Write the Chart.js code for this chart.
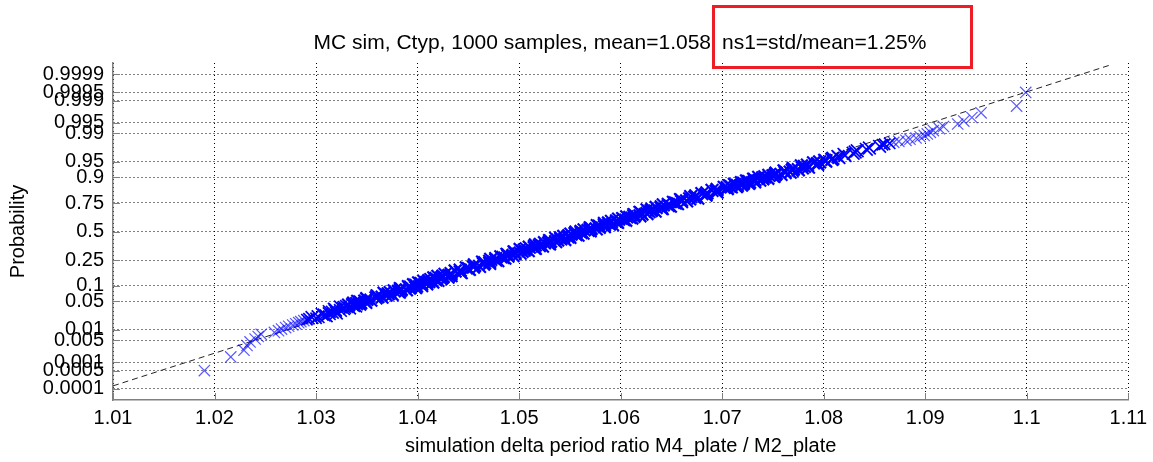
<!DOCTYPE html>
<html>
<head>
<meta charset="utf-8">
<script src="https://cdn.jsdelivr.net/npm/chart.js@4.4.1/dist/chart.umd.min.js"></script>
<style>
  html, body { margin: 0; padding: 0; background: #fff; }
  #wrap { width: 1153px; height: 462px; }
</style>
</head>
<body>
<div id="wrap"><canvas id="chart" width="1153" height="462"></canvas></div>
<script>
// sorted samples: [value, plotting probability]
const lowTail = [
  [1.0190, 0.0005], [1.0216, 0.0015], [1.0229, 0.0025], [1.0232, 0.0035], [1.0235, 0.0045],
  [1.0240, 0.0055], [1.0243, 0.0065], [1.0246, 0.0075], [1.0259, 0.0085], [1.0263, 0.0095],
  [1.0266, 0.0105], [1.0270, 0.0115], [1.0273, 0.0125], [1.0277, 0.0135], [1.0280, 0.0145],
  [1.0283, 0.0155], [1.0285, 0.0165], [1.0288, 0.0175], [1.0291, 0.0185], [1.0293, 0.0195]
];

const body = [
  [1.0300, 0.020], [1.0302, 0.022], [1.0308, 0.024], [1.0313, 0.026], [1.0316, 0.028],
  [1.0319, 0.030], [1.0319, 0.032], [1.0327, 0.034], [1.0328, 0.036], [1.0330, 0.038],
  [1.0337, 0.040], [1.0336, 0.042], [1.0340, 0.044], [1.0344, 0.046], [1.0343, 0.048],
  [1.0348, 0.050], [1.0350, 0.054], [1.0359, 0.058], [1.0361, 0.062], [1.0369, 0.066],
  [1.0371, 0.070], [1.0373, 0.074], [1.0381, 0.078], [1.0383, 0.082], [1.0384, 0.086],
  [1.0392, 0.090], [1.0393, 0.094], [1.0399, 0.098], [1.0398, 0.102], [1.0404, 0.106],
  [1.0403, 0.110], [1.0409, 0.114], [1.0411, 0.118], [1.0411, 0.122], [1.0418, 0.126],
  [1.0417, 0.130], [1.0418, 0.134], [1.0424, 0.138], [1.0425, 0.142], [1.0425, 0.146],
  [1.0431, 0.150], [1.0433, 0.16], [1.0442, 0.17], [1.0442, 0.18], [1.0450, 0.19],
  [1.0455, 0.20], [1.0456, 0.21], [1.0465, 0.22], [1.0466, 0.23], [1.0471, 0.24],
  [1.0477, 0.25], [1.0477, 0.26], [1.0484, 0.27], [1.0489, 0.28], [1.0489, 0.29],
  [1.0496, 0.30], [1.0496, 0.31], [1.0503, 0.32], [1.0505, 0.33], [1.0507, 0.34],
  [1.0515, 0.35], [1.0515, 0.36], [1.0520, 0.37], [1.0521, 0.38], [1.0529, 0.39],
  [1.0530, 0.40], [1.0531, 0.41], [1.0538, 0.42], [1.0541, 0.43], [1.0541, 0.44],
  [1.0548, 0.45], [1.0549, 0.46], [1.0556, 0.47], [1.0555, 0.48], [1.0561, 0.49],
  [1.0561, 0.50], [1.0568, 0.51], [1.0570, 0.52], [1.0571, 0.53], [1.0579, 0.54],
  [1.0579, 0.55], [1.0584, 0.56], [1.0589, 0.57], [1.0588, 0.58], [1.0596, 0.59],
  [1.0596, 0.60], [1.0603, 0.61], [1.0602, 0.62], [1.0609, 0.63], [1.0613, 0.64],
  [1.0614, 0.65], [1.0621, 0.66], [1.0620, 0.67], [1.0628, 0.68], [1.0630, 0.69],
  [1.0631, 0.70], [1.0640, 0.71], [1.0640, 0.72], [1.0647, 0.73], [1.0647, 0.74],
  [1.0654, 0.75], [1.0660, 0.76], [1.0660, 0.77], [1.0668, 0.78], [1.0673, 0.79],
  [1.0674, 0.80], [1.0684, 0.81], [1.0685, 0.82], [1.0694, 0.83], [1.0695, 0.84],
  [1.0705, 0.850], [1.0709, 0.854], [1.0708, 0.858], [1.0715, 0.862], [1.0713, 0.866],
  [1.0720, 0.870], [1.0721, 0.874], [1.0727, 0.878], [1.0726, 0.882], [1.0732, 0.886],
  [1.0732, 0.890], [1.0740, 0.894], [1.0740, 0.898], [1.0742, 0.902], [1.0750, 0.906],
  [1.0752, 0.910], [1.0753, 0.914], [1.0762, 0.918], [1.0762, 0.922], [1.0769, 0.926],
  [1.0770, 0.930], [1.0779, 0.934], [1.0781, 0.938], [1.0784, 0.942], [1.0794, 0.946],
  [1.0796, 0.950], [1.0802, 0.952], [1.0801, 0.954], [1.0808, 0.956], [1.0809, 0.958],
  [1.0815, 0.960], [1.0814, 0.962], [1.0821, 0.964], [1.0820, 0.966], [1.0829, 0.968],
  [1.0831, 0.970], [1.0833, 0.972], [1.0842, 0.974], [1.0845, 0.976], [1.0855, 0.978],
  [1.0858, 0.980]
];

// samples in between, spread to both sides of the band
const bodyFill = [
  [1.0296, 0.021], [1.0310, 0.023], [1.0306, 0.025], [1.0320, 0.027], [1.0313, 0.029],
  [1.0324, 0.031], [1.0318, 0.033], [1.0333, 0.035], [1.0324, 0.037], [1.0339, 0.039],
  [1.0332, 0.041], [1.0343, 0.043], [1.0337, 0.045], [1.0349, 0.047], [1.0341, 0.049],
  [1.0354, 0.052], [1.0350, 0.056], [1.0365, 0.060], [1.0360, 0.064], [1.0375, 0.068],
  [1.0367, 0.072], [1.0382, 0.076], [1.0377, 0.080], [1.0389, 0.084], [1.0383, 0.088],
  [1.0398, 0.092], [1.0391, 0.096], [1.0404, 0.100], [1.0396, 0.104], [1.0409, 0.108],
  [1.0401, 0.112], [1.0415, 0.116], [1.0406, 0.120], [1.0420, 0.124], [1.0413, 0.128],
  [1.0423, 0.132], [1.0416, 0.136], [1.0430, 0.140], [1.0420, 0.144], [1.0433, 0.148],
  [1.0427, 0.155], [1.0443, 0.165], [1.0437, 0.175], [1.0451, 0.185], [1.0448, 0.195],
  [1.0461, 0.205], [1.0456, 0.215], [1.0471, 0.225], [1.0464, 0.235], [1.0479, 0.245],
  [1.0472, 0.255], [1.0486, 0.265], [1.0482, 0.275], [1.0494, 0.285], [1.0488, 0.295],
  [1.0501, 0.305], [1.0495, 0.315], [1.0509, 0.325], [1.0501, 0.335], [1.0516, 0.345],
  [1.0510, 0.355], [1.0523, 0.365], [1.0516, 0.375], [1.0530, 0.385], [1.0525, 0.395],
  [1.0536, 0.405], [1.0530, 0.415], [1.0545, 0.425], [1.0536, 0.435], [1.0550, 0.445],
  [1.0544, 0.455], [1.0558, 0.465], [1.0551, 0.475], [1.0563, 0.485], [1.0556, 0.495],
  [1.0570, 0.505], [1.0564, 0.515], [1.0576, 0.525], [1.0570, 0.535], [1.0584, 0.545],
  [1.0577, 0.555], [1.0592, 0.565], [1.0584, 0.575], [1.0597, 0.585], [1.0591, 0.595],
  [1.0605, 0.605], [1.0598, 0.615], [1.0611, 0.625], [1.0606, 0.635], [1.0619, 0.645],
  [1.0613, 0.655], [1.0626, 0.665], [1.0619, 0.675], [1.0634, 0.685], [1.0626, 0.695],
  [1.0641, 0.705], [1.0635, 0.715], [1.0649, 0.725], [1.0642, 0.735], [1.0656, 0.745],
  [1.0652, 0.755], [1.0665, 0.765], [1.0659, 0.775], [1.0676, 0.785], [1.0669, 0.795],
  [1.0684, 0.805], [1.0680, 0.815], [1.0695, 0.825], [1.0690, 0.835], [1.0705, 0.845],
  [1.0702, 0.852], [1.0714, 0.856], [1.0707, 0.860], [1.0719, 0.864], [1.0712, 0.868],
  [1.0726, 0.872], [1.0719, 0.876], [1.0732, 0.880], [1.0724, 0.884], [1.0737, 0.888],
  [1.0731, 0.892], [1.0745, 0.896], [1.0736, 0.900], [1.0751, 0.904], [1.0746, 0.908],
  [1.0758, 0.912], [1.0753, 0.916], [1.0767, 0.920], [1.0761, 0.924], [1.0775, 0.928],
  [1.0770, 0.932], [1.0785, 0.936], [1.0778, 0.940], [1.0794, 0.944], [1.0790, 0.948]
];

const highTail = [
  [1.0860, 0.9805], [1.0865, 0.9815], [1.0869, 0.9825], [1.0874, 0.9835], [1.0881, 0.9845],
  [1.0885, 0.9855], [1.0891, 0.9865], [1.0895, 0.9875], [1.0899, 0.9885], [1.0902, 0.9895],
  [1.0905, 0.9905], [1.0908, 0.9915], [1.0914, 0.9925], [1.0918, 0.9935], [1.0932, 0.9945],
  [1.0938, 0.9955], [1.0946, 0.9965], [1.0955, 0.9975], [1.0990, 0.9985], [1.0999, 0.9995]
];

// fitted normal reference line (ends)
const refX = [1.01, 1.1083];
const refP = [0.00013, 0.99996];

const xTicks = [1.01, 1.02, 1.03, 1.04, 1.05, 1.06, 1.07, 1.08, 1.09, 1.1, 1.11];
const probTicks = [0.0001, 0.0005, 0.001, 0.005, 0.01, 0.05, 0.1, 0.25, 0.5,
                   0.75, 0.9, 0.95, 0.99, 0.995, 0.999, 0.9995, 0.9999];

const titleHead = 'MC sim, Ctyp, 1000 samples, mean=1.058';
const titleTail = 'ns1=std/mean=1.25%';

// inverse normal cdf (Acklam) -> probability axis is drawn in normal quantiles
function probit(p) {
  const a = [-39.69683028665376, 220.9460984245205, -275.9285104469687, 138.3577518672690, -30.66479806614716, 2.506628277459239];
  const b = [-54.47609879822406, 161.5858368580409, -155.6989798598866, 66.80131188771972, -13.28068155288572];
  const c = [-0.007784894002430293, -0.3223964580411365, -2.400758277161838, -2.549671010432549, 4.374664141464968, 2.938163982698783];
  const d = [0.007784695709041462, 0.3224671290700398, 2.445134137142996, 3.754408661907416];
  const lo = 0.02425;
  if (p < lo) {
    const q = Math.sqrt(-2 * Math.log(p));
    return (((((c[0]*q + c[1])*q + c[2])*q + c[3])*q + c[4])*q + c[5]) / ((((d[0]*q + d[1])*q + d[2])*q + d[3])*q + 1);
  }
  if (p > 1 - lo) {
    const q = Math.sqrt(-2 * Math.log(1 - p));
    return -(((((c[0]*q + c[1])*q + c[2])*q + c[3])*q + c[4])*q + c[5]) / ((((d[0]*q + d[1])*q + d[2])*q + d[3])*q + 1);
  }
  const q = p - 0.5, r = q * q;
  return (((((a[0]*r + a[1])*r + a[2])*r + a[3])*r + a[4])*r + a[5])*q / (((((b[0]*r + b[1])*r + b[2])*r + b[3])*r + b[4])*r + 1);
}

const toPoint = s => ({ x: s[0], y: probit(s[1]) });
const samples = lowTail.concat(body, bodyFill, highTail).map(toPoint);
const refLine = refX.map((v, i) => ({ x: v, y: probit(refP[i]) }));

const FONT = '"Liberation Sans", Arial, sans-serif';
const AXIS_GRAY = '#808080';

// dense middle of the band is drawn heavier, like the overplotted original
const depth = c => (c.raw ? Math.abs(c.raw.y) : 9);

const decorations = {
  id: 'decorations',
  afterDraw(chart) {
    const { ctx, chartArea: area, scales } = chart;
    ctx.save();
    // inward tick marks like matlab
    ctx.strokeStyle = AXIS_GRAY;
    ctx.lineWidth = 1;
    ctx.beginPath();
    scales.y.ticks.forEach(t => {
      const py = Math.round(scales.y.getPixelForValue(t.value)) + 0.5;
      ctx.moveTo(area.left, py);
      ctx.lineTo(area.left + 7, py);
    });
    scales.x.ticks.forEach(t => {
      const px = Math.round(scales.x.getPixelForValue(t.value)) + 0.5;
      ctx.moveTo(px, area.bottom);
      ctx.lineTo(px, area.bottom - 7);
    });
    ctx.stroke();

    // title, second half boxed in red
    ctx.font = '21px ' + FONT;
    ctx.fillStyle = '#000';
    ctx.textBaseline = 'middle';
    ctx.textAlign = 'right';
    ctx.fillText(titleHead, 711, 43);
    ctx.textAlign = 'left';
    ctx.fillText(titleTail, 722, 43);
    ctx.strokeStyle = '#ee1c24';
    ctx.lineWidth = 3;
    ctx.strokeRect(713.5, 6.5, 258, 61);
    ctx.restore();
  }
};

const chart = new Chart(document.getElementById('chart'), {
  type: 'scatter',
  data: {
    datasets: [
      {
        label: 'samples',
        data: samples,
        pointStyle: 'crossRot',
        pointRadius: c => depth(c) < 2.05 ? 9 : 8,
        pointBorderWidth: c => depth(c) < 1.75 ? 2.2 : (depth(c) < 2.1 ? 1.7 : 1.2),
        borderColor: c => depth(c) < 2.1 ? '#0000ff' : 'rgba(0, 0, 255, 0.65)',
        backgroundColor: '#0000ff',
        showLine: false
      },
      {
        label: 'reference',
        type: 'line',
        data: refLine,
        borderColor: '#222',
        borderWidth: 1,
        borderDash: [6, 4],
        pointRadius: 0,
        fill: false
      }
    ]
  },
  options: {
    responsive: false,
    animation: false,
    layout: { padding: { top: 63, right: 17, left: 0, bottom: 0 } },
    plugins: {
      legend: { display: false },
      tooltip: { enabled: false }
    },
    scales: {
      x: {
        type: 'linear',
        min: 1.01,
        max: 1.11,
        afterBuildTicks: scale => { scale.ticks = xTicks.map(v => ({ value: v })); },
        afterFit: scale => { scale.height = 62; },
        ticks: {
          autoSkip: false,
          maxRotation: 0,
          padding: 6,
          color: '#000',
          font: { family: FONT, size: 20 },
          callback: v => String(Number(v.toFixed(2)))
        },
        grid: { color: '#000', lineWidth: 1, drawTicks: false },
        border: { display: true, color: AXIS_GRAY, width: 1.5, dash: [1, 3] },
        title: {
          display: true,
          text: 'simulation delta period ratio M4_plate / M2_plate',
          color: '#000',
          font: { family: FONT, size: 20 },
          padding: { top: 0, bottom: 4 }
        }
      },
      y: {
        type: 'linear',
        min: -3.986,
        max: 3.986,
        afterBuildTicks: scale => { scale.ticks = probTicks.map(p => ({ value: probit(p) })); },
        afterFit: scale => { scale.width = 113; },
        ticks: {
          autoSkip: false,
          padding: 9,
          color: '#000',
          font: { family: FONT, size: 20 },
          callback: (v, i) => String(probTicks[i])
        },
        grid: { color: '#000', lineWidth: 1, drawTicks: false },
        border: { display: true, color: AXIS_GRAY, width: 1.5, dash: [1, 3] },
        title: {
          display: true,
          text: 'Probability',
          color: '#000',
          font: { family: FONT, size: 20 },
          padding: { top: 6, bottom: 0 }
        }
      }
    }
  },
  plugins: [decorations]
});
</script>
</body>
</html>
